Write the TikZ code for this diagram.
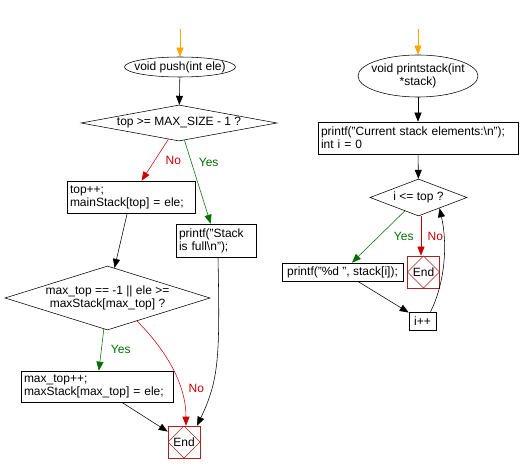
\documentclass[tikz,border=0pt]{standalone}
\usepackage{fontspec}
\setmainfont{Liberation Sans}
\usetikzlibrary{shapes.geometric,arrows.meta}
\definecolor{nored}{RGB}{204,0,0}
\definecolor{yesgreen}{RGB}{0,110,0}
\definecolor{endred}{RGB}{170,34,34}
\definecolor{startorange}{RGB}{255,165,0}
\begin{document}
\begin{tikzpicture}[x=1pt,y=-1pt,line width=0.55pt,
    font=\fontsize{12}{13}\selectfont,
    >={Triangle[length=9pt,width=7pt]},
    term/.style ={ellipse,draw,align=center,inner xsep=-7pt,inner ysep=0pt},
    box/.style ={rectangle,draw,align=left,inner sep=3pt},
    dec/.style ={diamond,draw,align=center,inner sep=0pt},
    fin/.style ={rectangle,draw=endred,minimum size=32pt,inner sep=0pt,
      path picture={\draw[endred,line width=0.4pt] (path picture bounding box.north)
        -- (path picture bounding box.east) -- (path picture bounding box.south)
        -- (path picture bounding box.west) -- cycle;}},
    go/.style ={->,black},
    start/.style ={->,startorange},
    yes/.style ={->,yesgreen,text=yesgreen},
    no/.style ={->,nored,text=nored}]
  \useasboundingbox (0,0) rectangle (520,473);

  \coordinate (s) at (180,29);
  \node[term,minimum width=111pt,minimum height=20pt] (a) at (180,67) {void push(int ele)};
  \node[dec,aspect=5.44,minimum width=196pt,minimum height=36pt] (b) at (179,123) {top >= MAX\_SIZE - 1 ?};
  \node[box,text width=122pt,minimum height=32pt] (c) at (131,197) {top++;\\mainStack[top] = ele;};
  \node[box,text width=74pt,minimum height=33pt] (d) at (216,240.5) {printf("Stack\\is full\textbackslash n");};
  \node[dec,aspect=3.2,minimum width=205pt,minimum height=64pt] (e) at (107.5,298) {max\_top == -1 || ele >=\\maxStack[max\_top] ?};
  \node[box,text width=146pt,minimum height=31pt] (f) at (97,386.5) {max\_top++;\\maxStack[max\_top] = ele;};
  \node[fin] (g) at (184,442) {End};

  \draw[start] (s) -- (a);
  \draw[go] (a) -- (b);
  \draw[no] (b) -- node[pos=0.5,right=7pt] {No} (c);
  \draw[yes] (b) -- node[pos=0.26,right=4pt] {Yes} (d);
  \draw[go] (c) -- (e);
  \draw[yes] (e) -- node[pos=0.5,right=6pt] {Yes} (f);
  \draw[no] (e.-38) .. controls +(25,25) and +(0,-45) .. node[pos=0.7,right=5pt] {No} ([xshift=2pt]g.north);
  \draw[go] (f) -- (g);
  \draw[go] ([xshift=2pt]d.south) .. controls +(2,100) and +(22,-46) .. ([xshift=13pt]g.north);

  \coordinate (t) at (418,29);
  \node[term,inner xsep=-5pt,minimum width=120pt,minimum height=42pt] (h) at (418,76) {void printstack(int\\*stack)};
  \node[box,text width=194pt,minimum height=32pt] (i) at (418,138) {printf("Current stack elements:\textbackslash n");\\int i = 0};
  \node[dec,aspect=2.62,minimum width=97pt,minimum height=37pt] (j) at (418.5,197.5) {i <= top ?};
  \node[box,align=center,minimum width=121pt,minimum height=18pt] (k) at (342.5,272) {printf("\%d ", stack[i]);};
  \node[fin] (l) at (423.5,272) {End};
  \node[box,align=center,minimum width=27pt,minimum height=18pt] (m) at (422.5,321) {i++};

  \draw[start] (t) -- (h);
  \draw[go] (h) -- (i);
  \draw[go] (i) -- (j);
  \draw[yes] (j) -- node[pos=0.5,right=12pt] {Yes} (k);
  \draw[no] ([xshift=2.5pt]j.south) -- node[pos=0.5,right=3pt] {No} ([xshift=-2.5pt]l.north);
  \draw[go] (k) -- (m);
  \draw[go] ([xshift=8pt]m.north) .. controls +(15,-30) and +(8,35) .. (j.-27);
\end{tikzpicture}
\end{document}
